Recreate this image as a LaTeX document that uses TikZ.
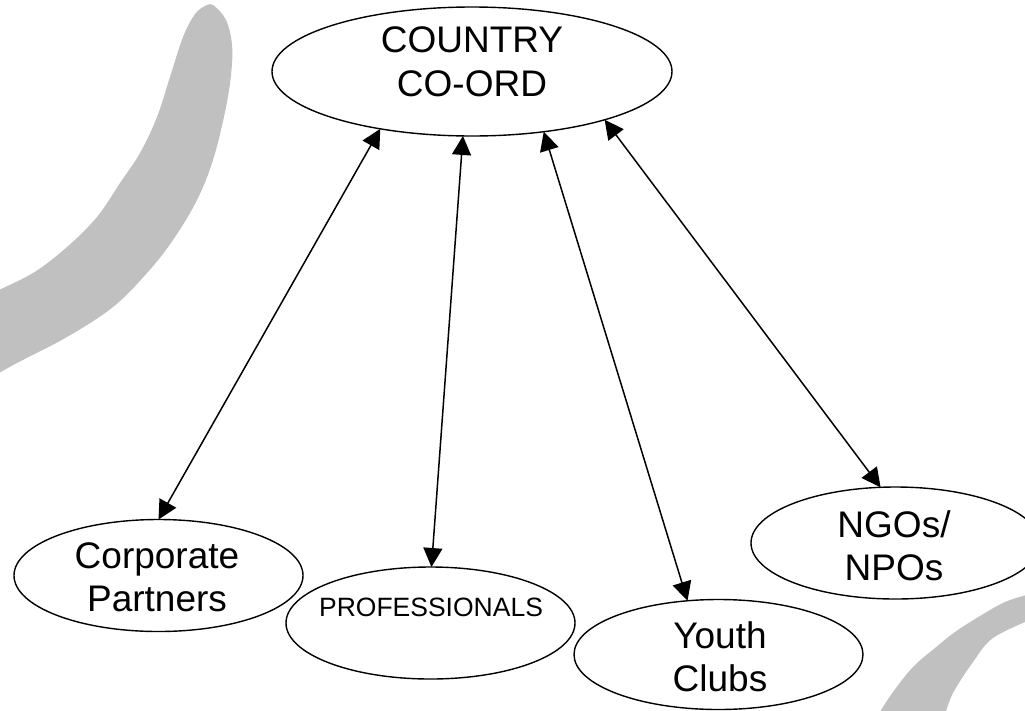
\documentclass[tikz,border=0pt]{standalone}
\usepackage{fontspec}
\setmainfont{Liberation Sans}
\usetikzlibrary{shapes.geometric,arrows.meta}
\definecolor{wmgray}{RGB}{192,192,192}
\begin{document}
\begin{tikzpicture}[x=1pt,y=-1pt,
  ell/.style={draw, ellipse, line width=1.4pt, inner sep=0pt, outer sep=0pt,
              minimum width=289pt, minimum height=112pt},
  bigell/.style={ell, minimum width=400pt, minimum height=129pt},
  lbl/.style={align=center, inner sep=0pt, font=\fontsize{37}{43.5}\selectfont},
  smalllbl/.style={align=center, inner sep=0pt, font=\fontsize{26.5}{31}\selectfont},
  link/.style={line width=1.5pt,
     {Triangle[length=19pt,width=19pt]}-{Triangle[length=19pt,width=19pt]}},
  wm/.style={fill=wmgray, draw=none}]
\useasboundingbox (0,0) rectangle (1025,710);
% watermark strokes
\begin{scope}
\clip (0,0) rectangle (1025,710);
\fill[wm] plot[smooth, tension=0.6] coordinates {(205,6) (213,5) (226,20) (232,45) (231,75) (225,112) (213,160) (197,200) (173,240) (147,273) (113,307) (67,337) (17,363) (-8,377)}
  -- plot[smooth, tension=0.6] coordinates {(-8,293) (33,273) (67,247) (97,217) (120,183) (140,153) (157,117) (170,77) (183,37) (195,14) (205,6)} -- cycle;
\fill[wm] plot[smooth, tension=0.6] coordinates {(1030,594) (1005,602) (980,616) (955,632) (935,648) (913,667) (893,692) (878,715)}
  -- plot[smooth, tension=0.6] coordinates {(945,715) (953,693) (973,662) (993,638) (1030,620)} -- cycle;
\end{scope}
% ellipses
\node[bigell] (cc) at (472,71.5) {};
\node[ell] (corp) at (158.5,575.5) {};
\node[ell] (prof) at (430.5,623) {};
\node[ell, minimum height=110pt] (youth) at (718.5,654.5) {};
\node[ell] (ngo) at (895.5,543) {};
% labels
\node[lbl] (cct) at (472,62) {COUNTRY\\CO-ORD};
\node[lbl] (corpt) at (157,577.5) {Corporate\\Partners};
\node[smalllbl] (proft) at (431,607) {PROFESSIONALS};
\node[lbl] (youtht) at (720,657) {Youth\\Clubs};
\node[lbl] (ngot) at (894,546) {NGOs/\\NPOs};
% connectors
\draw[link] (cc.212.4) -- (corp.90);
\draw[link] (cc.262) -- (prof.89);
\draw[link] (cc.320.1) -- (youth.120.4);
\draw[link] (cc.340.8) -- (ngo.105.6);
\end{tikzpicture}
\end{document}
